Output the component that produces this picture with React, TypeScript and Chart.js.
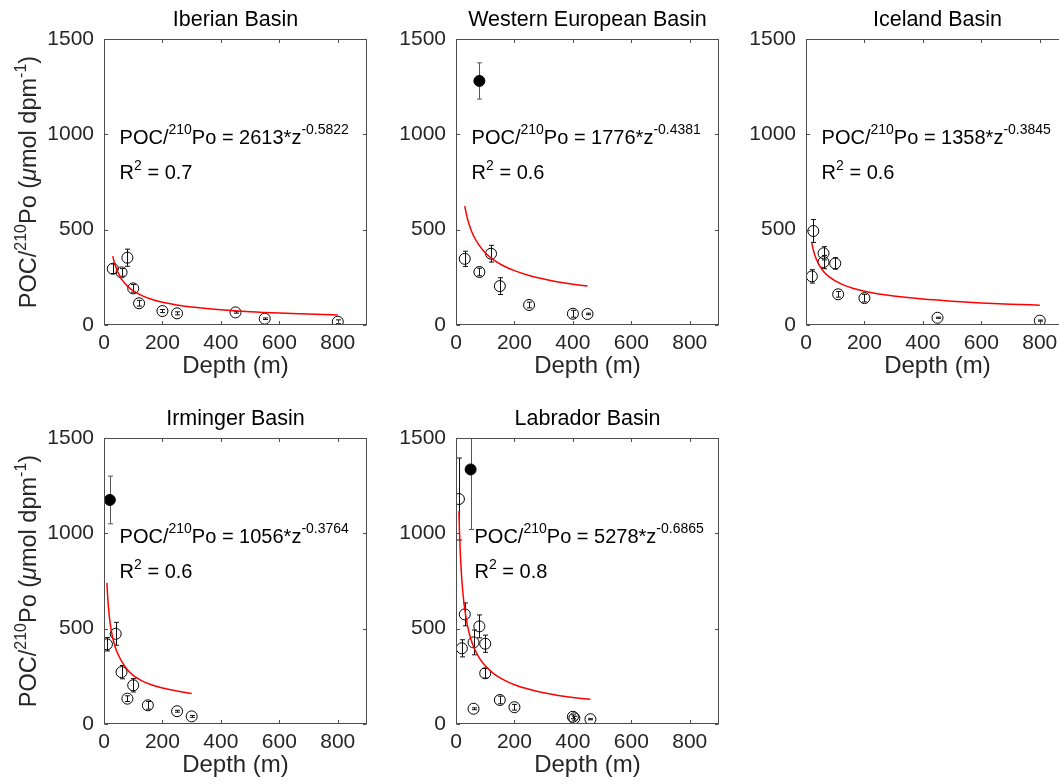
import React, { useEffect, useRef } from "react";
import { Chart, registerables } from "chart.js";

Chart.register(...registerables);

const FAMILY = '"Liberation Sans", Arial, Helvetica, sans-serif';

// Axis ticks
const xTickValues = [0, 200, 400, 600, 800];
const yTickValues = [0, 500, 1000, 1500];
const X_MIN = 0;
const X_MAX = 900;
const Y_MIN = 0;
const Y_MAX = 1500;

// ---------- Iberian Basin ----------
const iberianDepth = [30, 60, 80, 100, 120, 200, 250, 450, 550, 800];
const iberianPoc = [295, 276, 353, 192, 114, 73, 61, 66, 33, 17];
const iberianErr = [25, 20, 45, 20, 15, 8, 8, 4, 4, 10];
const iberianOutDepth: number[] = [];
const iberianOutPoc: number[] = [];
const iberianOutErr: number[] = [];
const iberianFitDepth = [30, 35, 40, 50, 60, 80, 100, 130, 160, 200, 250, 300, 400, 500, 600, 700, 800];
const iberianFitPoc = [361, 330, 305, 268, 241, 204, 179, 154, 136, 119, 105, 94, 80, 70, 63, 58, 53];

// ---------- Western European Basin ----------
const westernDepth = [30, 80, 120, 150, 250, 400, 450];
const westernPoc = [347, 278, 374, 204, 105, 59, 58];
const westernErr = [40, 20, 44, 44, 15, 18, 4];
const westernOutDepth = [80];
const westernOutPoc = [1280];
const westernOutErr = [95];
const westernFitDepth = [30, 35, 40, 50, 60, 80, 100, 130, 160, 200, 250, 300, 350, 400, 450];
const westernFitPoc = [623, 585, 553, 505, 468, 416, 379, 340, 312, 285, 260, 241, 226, 214, 204];

// ---------- Iceland Basin ----------
const icelandDepth = [25, 60, 60, 100, 20, 110, 200, 450, 800];
const icelandPoc = [493, 376, 330, 323, 255, 161, 141, 38, 23];
const icelandErr = [60, 35, 35, 30, 35, 15, 20, 3, 3];
const icelandOutDepth: number[] = [];
const icelandOutPoc: number[] = [];
const icelandOutErr: number[] = [];
const icelandFitDepth = [20, 25, 30, 40, 50, 60, 80, 100, 130, 160, 200, 250, 300, 400, 500, 600, 700, 800];
const icelandFitPoc = [429, 394, 367, 329, 302, 281, 252, 231, 209, 193, 177, 163, 152, 136, 125, 116, 109, 104];

// ---------- Irminger Basin ----------
const irmingerDepth = [10, 40, 60, 100, 80, 150, 250, 300];
const irmingerPoc = [418, 473, 272, 203, 133, 98, 67, 40];
const irmingerErr = [35, 60, 35, 35, 15, 20, 5, 5];
const irmingerOutDepth = [20];
const irmingerOutPoc = [1175];
const irmingerOutErr = [125];
const irmingerFitDepth = [10, 12, 15, 20, 25, 30, 40, 50, 60, 80, 100, 130, 160, 200, 250, 300];
const irmingerFitPoc = [740, 682, 617, 541, 490, 451, 396, 359, 330, 285, 255, 226, 207, 189, 173, 160];

// ---------- Labrador Basin ----------
const labradorDepth = [10, 30, 20, 60, 80, 100, 100, 150, 60, 200, 400, 405, 460];
const labradorPoc = [1180, 575, 397, 428, 512, 421, 266, 126, 80, 88, 38, 30, 25];
const labradorErr = [215, 60, 45, 65, 60, 45, 25, 20, 5, 15, 10, 10, 3];
const labradorOutDepth = [50];
const labradorOutPoc = [1335];
const labradorOutErr = [315];
const labradorFitDepth = [10, 12, 15, 20, 25, 30, 40, 50, 60, 80, 100, 130, 160, 200, 250, 300, 350, 400, 460];
const labradorFitPoc = [1116, 1007, 888, 755, 666, 601, 511, 450, 406, 345, 305, 263, 234, 206, 182, 164, 150, 139, 129];

// Panel texts
const panelTitles = ["Iberian Basin", "Western European Basin", "Iceland Basin", "Irminger Basin", "Labrador Basin"];
const fitCoefs = ["2613", "1776", "1358", "1056", "5278"];
const fitExps = ["-0.5822", "-0.4381", "-0.3845", "-0.3764", "-0.6865"];
const fitR2 = ["0.7", "0.6", "0.6", "0.6", "0.8"];
const annotX = [50, 50, 50, 50, 60];
const annotY1 = 1000;
const annotY2 = 800;

// Layout (axes box positions on the page)
const AX_W = 263;
const AX_H = 286;
const LEFT_M = 104;
const TOP_M = 39;
const RIGHT_M = 10;
const BOTTOM_M = 62;

type Panel = {
  title: string;
  left: number;
  top: number;
  depth: number[];
  poc: number[];
  err: number[];
  outDepth: number[];
  outPoc: number[];
  outErr: number[];
  fitDepth: number[];
  fitPoc: number[];
  coef: string;
  exp: string;
  r2: string;
  ax: number;
  yLabel: boolean;
};

const panels: Panel[] = [
  { title: panelTitles[0], left: 104, top: 39, depth: iberianDepth, poc: iberianPoc, err: iberianErr, outDepth: iberianOutDepth, outPoc: iberianOutPoc, outErr: iberianOutErr, fitDepth: iberianFitDepth, fitPoc: iberianFitPoc, coef: fitCoefs[0], exp: fitExps[0], r2: fitR2[0], ax: annotX[0], yLabel: true },
  { title: panelTitles[1], left: 456, top: 39, depth: westernDepth, poc: westernPoc, err: westernErr, outDepth: westernOutDepth, outPoc: westernOutPoc, outErr: westernOutErr, fitDepth: westernFitDepth, fitPoc: westernFitPoc, coef: fitCoefs[1], exp: fitExps[1], r2: fitR2[1], ax: annotX[1], yLabel: false },
  { title: panelTitles[2], left: 806, top: 39, depth: icelandDepth, poc: icelandPoc, err: icelandErr, outDepth: icelandOutDepth, outPoc: icelandOutPoc, outErr: icelandOutErr, fitDepth: icelandFitDepth, fitPoc: icelandFitPoc, coef: fitCoefs[2], exp: fitExps[2], r2: fitR2[2], ax: annotX[2], yLabel: false },
  { title: panelTitles[3], left: 104, top: 438, depth: irmingerDepth, poc: irmingerPoc, err: irmingerErr, outDepth: irmingerOutDepth, outPoc: irmingerOutPoc, outErr: irmingerOutErr, fitDepth: irmingerFitDepth, fitPoc: irmingerFitPoc, coef: fitCoefs[3], exp: fitExps[3], r2: fitR2[3], ax: annotX[3], yLabel: true },
  { title: panelTitles[4], left: 456, top: 438, depth: labradorDepth, poc: labradorPoc, err: labradorErr, outDepth: labradorOutDepth, outPoc: labradorOutPoc, outErr: labradorOutErr, fitDepth: labradorFitDepth, fitPoc: labradorFitPoc, coef: fitCoefs[4], exp: fitExps[4], r2: fitR2[4], ax: annotX[4], yLabel: false },
];

type Part = { t: string; sup?: boolean; italic?: boolean };

function drawParts(
  ctx: CanvasRenderingContext2D,
  parts: Part[],
  x: number,
  y: number,
  size: number,
  supSize: number,
  raise: number,
  align: "left" | "center",
  color: string
) {
  const fontOf = (p: Part) => `${p.italic ? "italic " : ""}${p.sup ? supSize : size}px ${FAMILY}`;
  let total = 0;
  for (const p of parts) {
    ctx.font = fontOf(p);
    total += ctx.measureText(p.t).width;
  }
  let cx = align === "center" ? x - total / 2 : x;
  ctx.textAlign = "left";
  ctx.textBaseline = "alphabetic";
  ctx.fillStyle = color;
  for (const p of parts) {
    ctx.font = fontOf(p);
    ctx.fillText(p.t, cx, p.sup ? y - raise : y);
    cx += ctx.measureText(p.t).width;
  }
}

const errorBarPlugin = {
  id: "errorBars",
  beforeDatasetsDraw(chart: any) {
    const { ctx, chartArea } = chart;
    const ys = chart.scales.y;
    ctx.save();
    ctx.beginPath();
    ctx.rect(chartArea.left, chartArea.top, chartArea.right - chartArea.left, chartArea.bottom - chartArea.top);
    ctx.clip();
    chart.data.datasets.forEach((ds: any, i: number) => {
      if (!ds.errors) return;
      const meta = chart.getDatasetMeta(i);
      ctx.strokeStyle = ds.errColor || "#000";
      ctx.lineWidth = 1;
      meta.data.forEach((pt: any, j: number) => {
        const v = ds.data[j].y;
        const e = ds.errors[j];
        const px = Math.round(pt.x) + 0.5;
        const yTop = ys.getPixelForValue(v + e);
        const yBot = ys.getPixelForValue(v - e);
        const cap = 2.5;
        ctx.beginPath();
        ctx.moveTo(px, yTop);
        ctx.lineTo(px, yBot);
        ctx.moveTo(px - cap, yTop);
        ctx.lineTo(px + cap, yTop);
        ctx.moveTo(px - cap, yBot);
        ctx.lineTo(px + cap, yBot);
        ctx.stroke();
      });
    });
    ctx.restore();
  },
};

const decorPlugin = {
  id: "decor",
  afterDraw(chart: any) {
    const { ctx, chartArea } = chart;
    const p: Panel = chart.options.plugins.decor.panel;
    const xs = chart.scales.x;
    const ys = chart.scales.y;
    const L = Math.round(chartArea.left) + 0.5;
    const R = Math.round(chartArea.right) - 0.5;
    const T = Math.round(chartArea.top) + 0.5;
    const B = Math.round(chartArea.bottom) - 0.5;
    ctx.save();
    // Box
    ctx.strokeStyle = "#4d4d4d";
    ctx.lineWidth = 1;
    ctx.strokeRect(L, T, R - L, B - T);
    // Inward ticks
    const tl = 3.5;
    ctx.beginPath();
    xTickValues.forEach((v) => {
      const px = Math.round(xs.getPixelForValue(v)) + 0.5;
      ctx.moveTo(px, B);
      ctx.lineTo(px, B - tl);
      ctx.moveTo(px, T);
      ctx.lineTo(px, T + tl);
    });
    yTickValues.forEach((v) => {
      const py = Math.round(ys.getPixelForValue(v)) + 0.5;
      ctx.moveTo(L, py);
      ctx.lineTo(L + tl, py);
      ctx.moveTo(R, py);
      ctx.lineTo(R - tl, py);
    });
    ctx.stroke();

    // Title
    ctx.fillStyle = "#000";
    ctx.font = `21.5px ${FAMILY}`;
    ctx.textAlign = "center";
    ctx.textBaseline = "alphabetic";
    ctx.fillText(p.title, (chartArea.left + chartArea.right) / 2, chartArea.top - 13);

    // Fit annotation
    const ax = xs.getPixelForValue(p.ax) + 1;
    const y1 = ys.getPixelForValue(annotY1) + 9.5;
    const y2 = ys.getPixelForValue(annotY2) + 7;
    drawParts(
      ctx,
      [{ t: "POC/" }, { t: "210", sup: true }, { t: `Po = ${p.coef}*z` }, { t: p.exp, sup: true }],
      ax, y1, 20, 14, 10, "left", "#000"
    );
    drawParts(ctx, [{ t: "R" }, { t: "2", sup: true }, { t: ` = ${p.r2}` }], ax, y2, 20, 14, 9, "left", "#000");

    // Y axis label
    if (p.yLabel) {
      ctx.save();
      ctx.translate(chartArea.left - 68, (chartArea.top + chartArea.bottom) / 2);
      ctx.rotate(-Math.PI / 2);
      drawParts(
        ctx,
        [
          { t: "POC/" },
          { t: "210", sup: true },
          { t: "Po (" },
          { t: "\u03bc", italic: true },
          { t: "mol dpm" },
          { t: "-1", sup: true },
          { t: ")" },
        ],
        0, 0, 23.5, 16, 10.5, "center", "#262626"
      );
      ctx.restore();
    }
    ctx.restore();
  },
};

function SubPlot({ panel }: { panel: Panel }) {
  const ref = useRef<HTMLCanvasElement | null>(null);
  const W = LEFT_M + AX_W + RIGHT_M;
  const H = TOP_M + AX_H + BOTTOM_M;

  useEffect(() => {
    if (!ref.current) return;
    const toPts = (xs: number[], ys: number[]) => xs.map((x, i) => ({ x, y: ys[i] }));
    const tickFont = { family: FAMILY, size: 21 };
    const chart = new Chart(ref.current, {
      type: "scatter",
      data: {
        datasets: [
          {
            type: "line",
            data: toPts(panel.fitDepth, panel.fitPoc),
            borderColor: "#ff0000",
            borderWidth: 1.5,
            pointRadius: 0,
            fill: false,
            showLine: true,
            cubicInterpolationMode: "monotone",
            order: 0,
          } as any,
          {
            data: toPts(panel.depth, panel.poc),
            errors: panel.err,
            errColor: "#111",
            pointStyle: "circle",
            pointRadius: 5.5,
            borderColor: "#000",
            borderWidth: 1,
            backgroundColor: "rgba(0,0,0,0)",
            showLine: false,
            order: 1,
          } as any,
          {
            data: toPts(panel.outDepth, panel.outPoc),
            errors: panel.outErr,
            errColor: "#555",
            pointStyle: "circle",
            pointRadius: 5.5,
            borderColor: "#000",
            borderWidth: 1,
            backgroundColor: "#000",
            showLine: false,
            order: 1,
          } as any,
        ],
      },
      options: {
        responsive: false,
        animation: false,
        events: [],
        layout: { padding: { left: 0, top: TOP_M, right: RIGHT_M, bottom: 0 } },
        plugins: {
          legend: { display: false },
          tooltip: { enabled: false },
          title: { display: false },
          decor: { panel },
        } as any,
        scales: {
          x: {
            type: "linear",
            position: "bottom",
            min: X_MIN,
            max: X_MAX,
            afterBuildTicks: (s: any) => {
              s.ticks = xTickValues.map((v) => ({ value: v }));
            },
            afterFit: (s: any) => {
              s.height = BOTTOM_M;
            },
            grid: { display: false, drawTicks: false },
            border: { display: false },
            ticks: {
              padding: 6,
              color: "#262626",
              font: tickFont,
              maxRotation: 0,
              autoSkip: false,
              callback: (v: any) => String(v),
            },
            title: {
              display: true,
              text: "Depth (m)",
              color: "#262626",
              font: { family: FAMILY, size: 24 },
              padding: { top: 0, bottom: 6 },
            },
          },
          y: {
            type: "linear",
            position: "left",
            min: Y_MIN,
            max: Y_MAX,
            afterBuildTicks: (s: any) => {
              s.ticks = yTickValues.map((v) => ({ value: v }));
            },
            afterFit: (s: any) => {
              s.width = LEFT_M;
            },
            grid: { display: false, drawTicks: false },
            border: { display: false },
            ticks: {
              padding: 10,
              color: "#262626",
              font: tickFont,
              autoSkip: false,
              callback: (v: any) => String(v),
            },
          },
        },
      } as any,
      plugins: [errorBarPlugin, decorPlugin],
    });
    return () => chart.destroy();
  }, [panel]);

  return (
    <canvas
      ref={ref}
      width={W}
      height={H}
      style={{
        position: "absolute",
        left: panel.left - LEFT_M,
        top: panel.top - TOP_M,
        width: W,
        height: H,
      }}
    />
  );
}

export default function App() {
  return (
    <div
      style={{
        position: "absolute",
        left: 0,
        top: 0,
        width: 1059,
        height: 784,
        overflow: "hidden",
        background: "#fff",
      }}
    >
      {panels.map((p, i) => (
        <SubPlot key={i} panel={p} />
      ))}
    </div>
  );
}
